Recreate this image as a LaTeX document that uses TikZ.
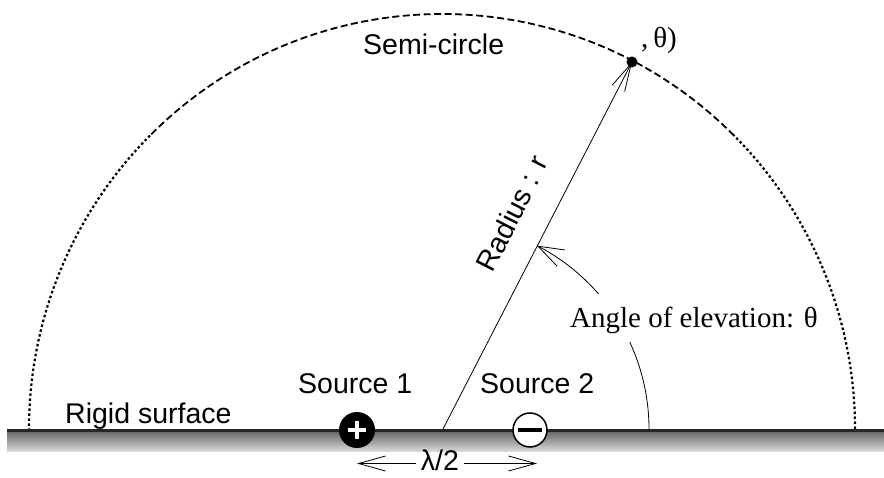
\documentclass[tikz,border=0pt]{standalone}
\usepackage{fontspec}
\setmainfont{Liberation Sans}
\newfontfamily\tms{Liberation Serif}
\usetikzlibrary{arrows.meta,calc}
\begin{document}
\begin{tikzpicture}[x=1pt,y=1pt,
  lab/.style={font=\fontsize{28.5}{31}\selectfont, inner sep=0pt},
  tlab/.style={font=\tms\fontsize{29}{32}\selectfont, inner sep=0pt},
  sidedot/.style={line width=2.2pt, dash pattern=on 2.5pt off 2.5pt},
  topdash/.style={line width=1.8pt, dash pattern=on 7pt off 3.5pt},
  thinline/.style={line width=0.8pt},
  barb/.style={-{Straight Barb[length=26pt,width=18pt]}},
  lbarb/.style={-{Straight Barb[length=27pt,width=15pt]}},
  dot/.style={circle,fill=black,inner sep=0pt,minimum size=11pt}
]
\useasboundingbox (0,0) rectangle (884,477);

\coordinate (C) at (442,48);
\coordinate (O) at (443,48);

% semicircle
\coordinate (s0) at ($(C)+(0:413pt and 415pt)$);
\coordinate (s45) at ($(C)+(45:413pt and 415pt)$);
\coordinate (s135) at ($(C)+(135:413pt and 415pt)$);
\draw[sidedot] (s0) arc[start angle=0,end angle=45,x radius=413pt,y radius=415pt];
\draw[topdash] (s45) arc[start angle=45,end angle=135,x radius=413pt,y radius=415pt];
\draw[sidedot] (s135) arc[start angle=135,end angle=180,x radius=413pt,y radius=415pt];

% rigid surface
\shade[top color=black!65,bottom color=black!15] (7,26) rectangle (884,48);
\draw[line width=3pt,black!85] (7,46.5) -- (884,46.5);

% radius line and point
\node[dot] (pt) at (632,415) {};
\draw[thinline,-{Straight Barb[length=28pt,width=14pt]}] (O) -- (pt.center);

% angle arc
\coordinate (a0) at ($(O)+(0:206pt)$);
\coordinate (a41) at ($(O)+(41:206pt)$);
\draw[thinline] (a0) arc[start angle=0,end angle=25,radius=206pt];
\draw[thinline,barb] (a41) arc[start angle=41,end angle=62.9,radius=206pt];

% sources
\node[circle,fill=black,minimum size=36pt,inner sep=0pt] (s1) at (357,47) {};
\draw[white,line width=3.2pt] ($(s1)+(-9pt,0)$) -- ($(s1)+(9pt,0)$);
\draw[white,line width=3.2pt] ($(s1)+(0,-9pt)$) -- ($(s1)+(0,9pt)$);
\node[circle,draw=black,line width=1.5pt,fill=white,minimum size=34pt,inner sep=0pt] (s2) at (530,47) {};
\draw[black,line width=3.2pt] ($(s2)+(-12pt,0)$) -- ($(s2)+(12pt,0)$);

% labels
\node[lab,anchor=base west] (semi) at (363,422) {Semi-circle};
\node[lab,anchor=base west] (src1) at (298,84) {Source 1};
\node[lab,anchor=base west] (src2) at (480,84) {Source 2};
\node[lab,anchor=base west] (rigid) at (65,54) {Rigid surface};
\node[tlab,anchor=base west] (ang) at (570,149) {Angle of elevation: θ};
\node[tlab,anchor=base west] (ptlab) at (641,429) {,\,θ)};
\node[lab,anchor=base,rotate=63] (rad) at (521,259) {Radius : r};

% lambda/2
\node[lab,anchor=base,inner xsep=5pt] (lam) at (440,6.5) {λ/2};
\coordinate (lamL) at (357,13.5);
\coordinate (lamR) at (537,13.5);
\draw[thinline,lbarb] (lam.west |- lamL) -- (lamL);
\draw[thinline,lbarb] (lam.east |- lamR) -- (lamR);
\end{tikzpicture}
\end{document}
